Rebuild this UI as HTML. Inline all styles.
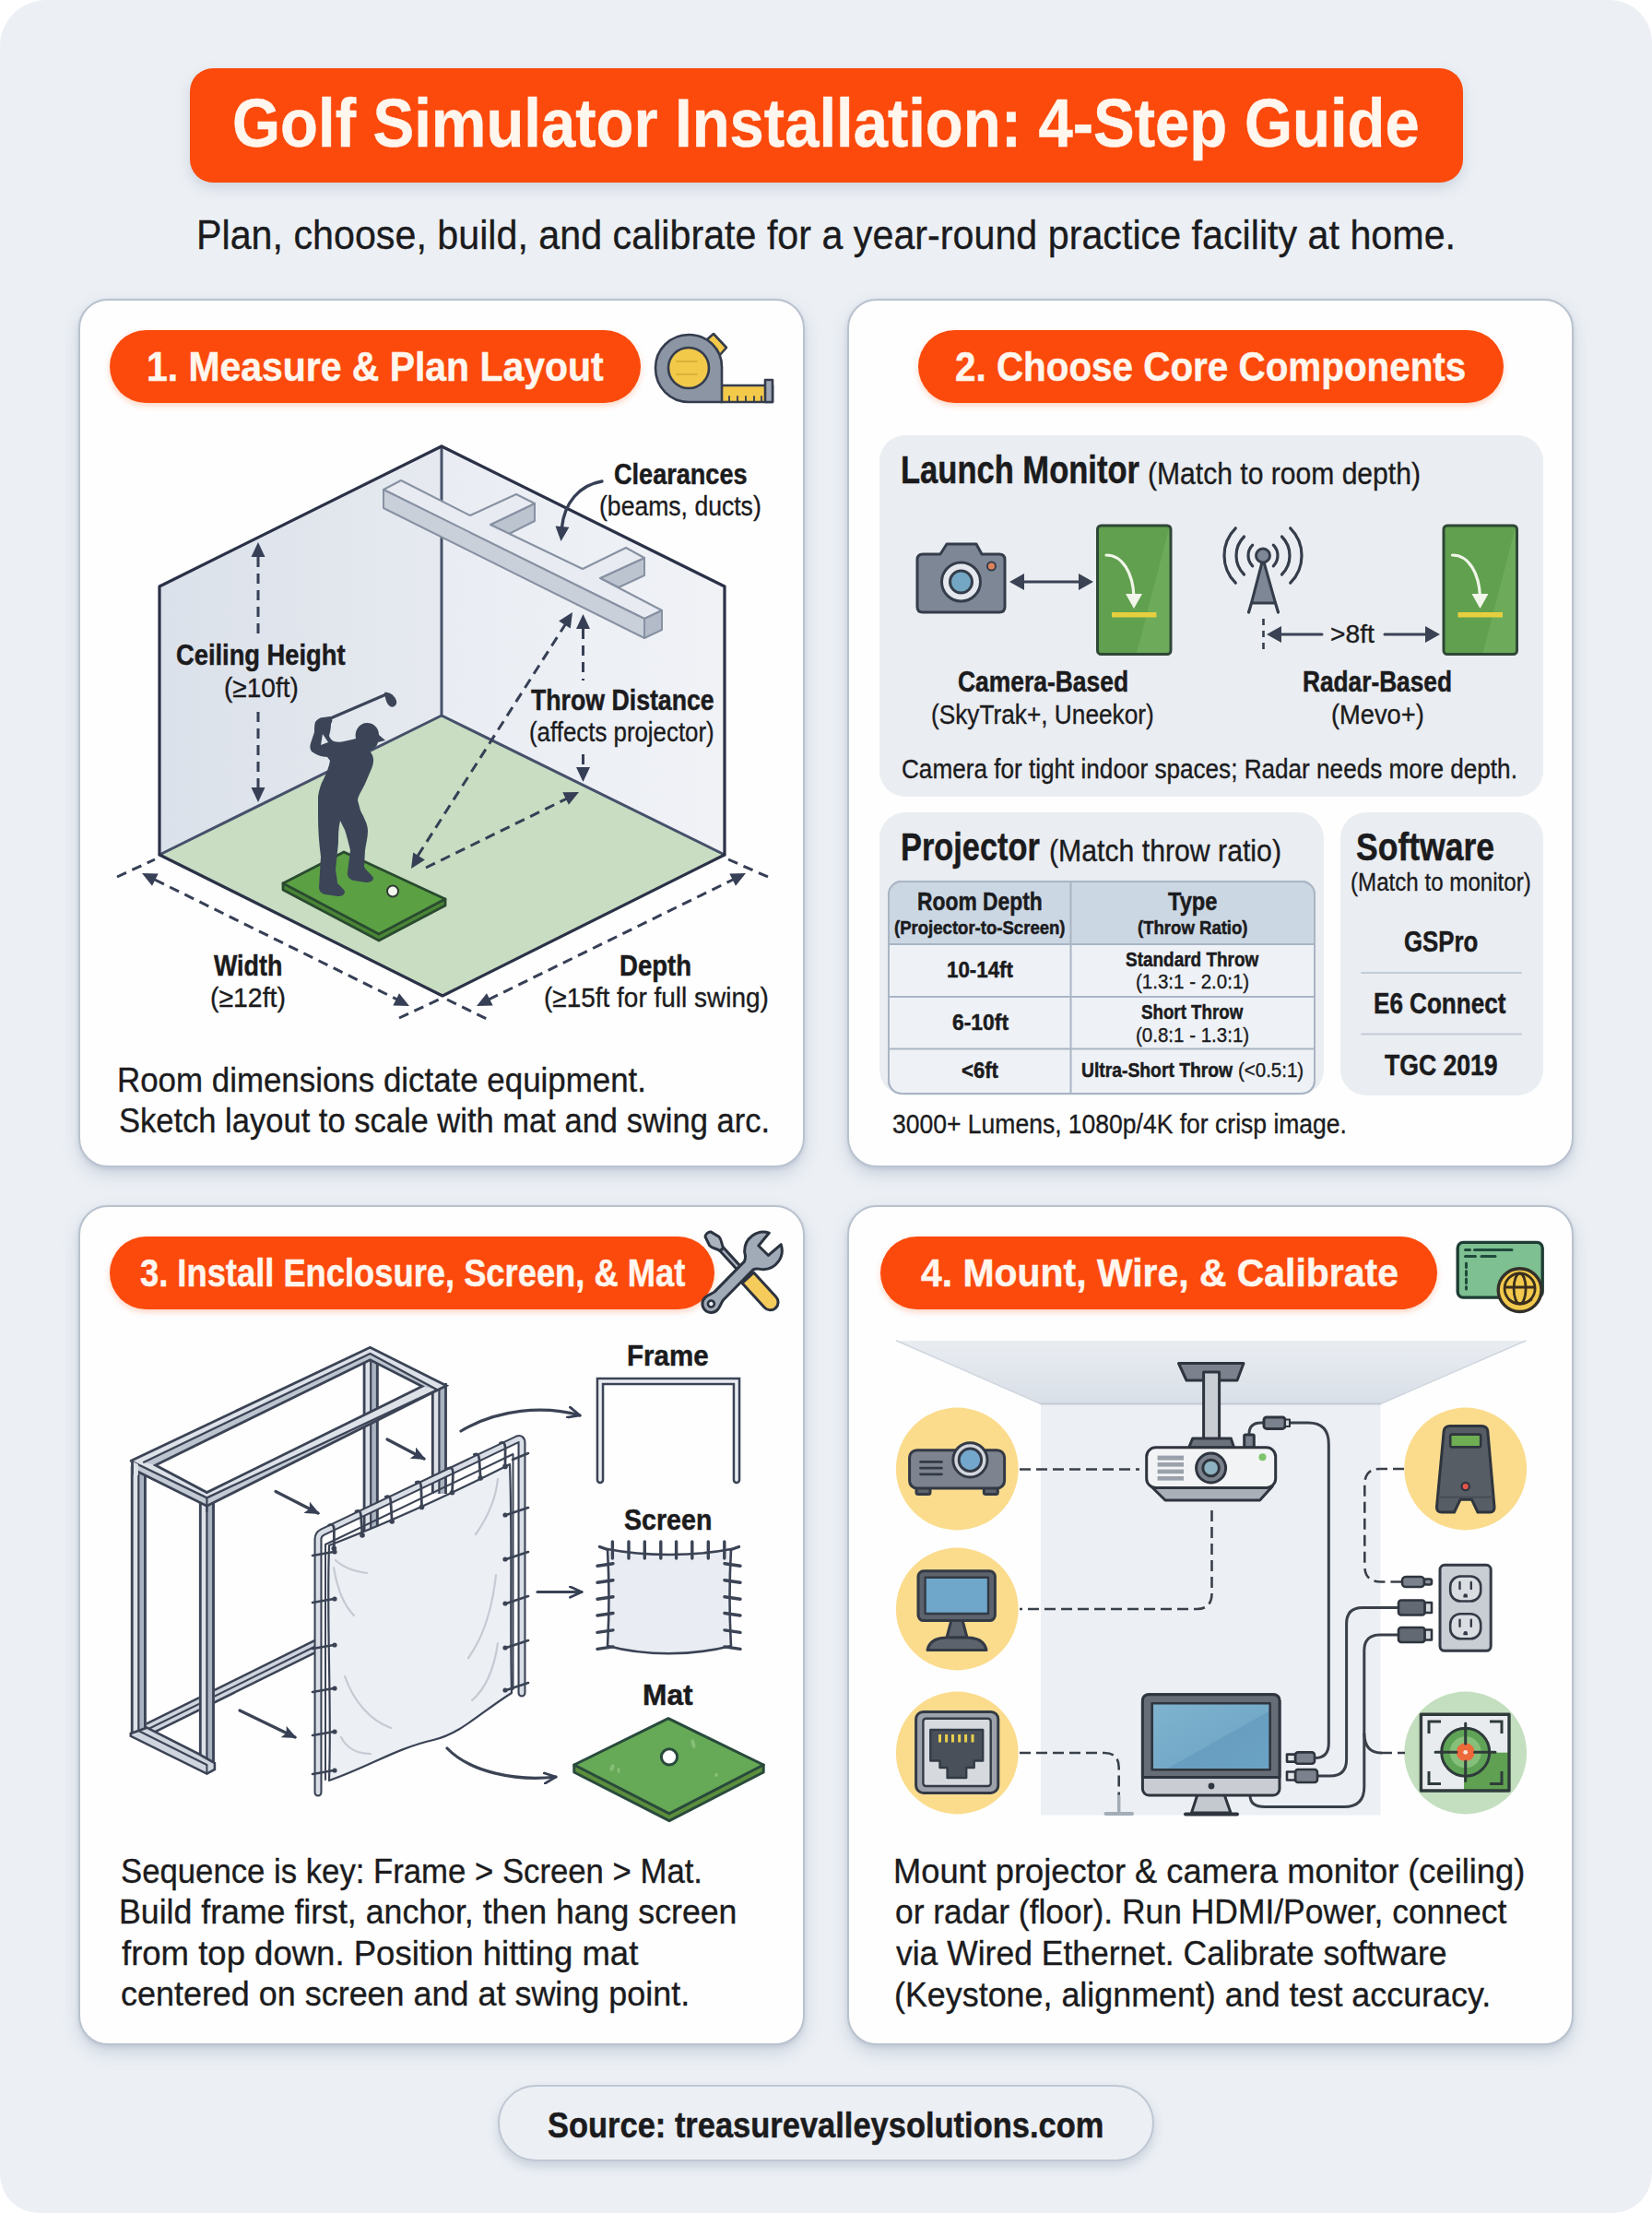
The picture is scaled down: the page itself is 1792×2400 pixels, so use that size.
<!DOCTYPE html>
<html lang="en">
<head>
<meta charset="utf-8">
<title>Golf Simulator Installation: 4-Step Guide</title>
<style>
html,body{margin:0;padding:0;background:#ffffff;}
body{width:1792px;height:2400px;overflow:hidden;font-family:"Liberation Sans",sans-serif;}
#page{position:relative;width:1792px;height:2400px;background:#ecf0f5;border-radius:50px 46px 43px 42px;overflow:hidden;}
.t{position:absolute;white-space:nowrap;line-height:1;transform-origin:0 0;color:#1b1b1d;font-family:"Liberation Sans",sans-serif;}
.t{-webkit-text-stroke:0.35px currentColor;}
.b{font-weight:bold;-webkit-text-stroke:0.5px currentColor;}
.panel{position:absolute;background:#fefefe;border:2px solid #b9c2ce;border-radius:32px;box-sizing:border-box;box-shadow:0 8px 18px rgba(120,135,160,.28),0 2px 4px rgba(120,135,160,.2);}
.pill{position:absolute;background:#fb4a0c;border-radius:40px;box-shadow:0 3px 6px rgba(250,90,20,.25);}
.sub{position:absolute;background:#eaedf1;border-radius:28px;}
.art{position:absolute;left:0;top:0;}
</style>
</head>
<body>
<div id="page">
<div class="pill" style="left:206px;top:74px;width:1381px;height:124px;border-radius:25px;box-shadow:0 6px 14px rgba(150,160,180,.35);"></div>
<div class="panel" style="left:85px;top:324px;width:788px;height:942px;"></div>
<div class="panel" style="left:919px;top:324px;width:788px;height:942px;"></div>
<div class="panel" style="left:85px;top:1307px;width:788px;height:911px;"></div>
<div class="panel" style="left:919px;top:1307px;width:788px;height:911px;"></div>
<div class="pill" style="left:119px;top:358px;width:576px;height:79px;"></div>
<div class="pill" style="left:996px;top:358px;width:635px;height:79px;"></div>
<div class="pill" style="left:119px;top:1341px;width:656px;height:79px;"></div>
<div class="pill" style="left:955px;top:1341px;width:604px;height:79px;"></div>
<div class="sub" style="left:954px;top:472px;width:720px;height:392px;"></div>
<div class="sub" style="left:954px;top:881px;width:482px;height:307px;"></div>
<div class="sub" style="left:1454px;top:881px;width:220px;height:307px;"></div>
<div style="position:absolute;left:540px;top:2261px;width:712px;height:83px;box-sizing:border-box;border:2.5px solid #bfc7d3;border-radius:42px;background:#eceff4;box-shadow:0 6px 12px rgba(120,135,160,.3);"></div>

<svg class="art" width="1792" height="2400" viewBox="0 0 1792 2400">
<defs>
<marker id="ah" viewBox="0 0 14 12" refX="12" refY="6" markerWidth="16" markerHeight="14" markerUnits="userSpaceOnUse" orient="auto-start-reverse"><path d="M0,0 L14,6 L0,12 L3,6 Z" fill="#363f55"/></marker>
<marker id="ah2" viewBox="0 0 14 12" refX="12" refY="6" markerWidth="16" markerHeight="14" markerUnits="userSpaceOnUse" orient="auto-start-reverse"><path d="M1,1 L12,6 L1,11" fill="none" stroke="#363f55" stroke-width="2.4" stroke-linecap="round" stroke-linejoin="round"/></marker>
<linearGradient id="lw" x1="0" y1="0" x2="1" y2="0"><stop offset="0" stop-color="#dbe1ea"/><stop offset="1" stop-color="#e6eaf0"/></linearGradient>
<linearGradient id="rw" x1="0" y1="0" x2="1" y2="0"><stop offset="0" stop-color="#e9edf3"/><stop offset="1" stop-color="#f0f2f6"/></linearGradient>
<linearGradient id="scr" x1="0" y1="0" x2="1" y2="1"><stop offset="0" stop-color="#63a650"/><stop offset="0.55" stop-color="#5a9c47"/><stop offset="0.56" stop-color="#4f9140"/><stop offset="1" stop-color="#56993f"/></linearGradient>
<linearGradient id="mon" x1="0" y1="0" x2="1" y2="1"><stop offset="0" stop-color="#7fb3cf"/><stop offset="0.55" stop-color="#74aac8"/><stop offset="0.56" stop-color="#689fc0"/><stop offset="1" stop-color="#6ba3c4"/></linearGradient>
<linearGradient id="ceil" x1="0" y1="0" x2="0" y2="1"><stop offset="0" stop-color="#e9edf2"/><stop offset="1" stop-color="#d9dfe7"/></linearGradient>
</defs>
<g id="p1" stroke-linejoin="round" stroke-linecap="round">
<!-- tape measure icon -->
<g stroke="#343c4d" stroke-width="2.6">
<path d="M782,418 H838 V436 H782 Z" fill="#f3c94a"/>
<path d="M830,412 h8 v24 h-8 z" fill="#9ea6b3"/>
<path d="M766,369 l8,-7 l14,15 l-8,9 z" fill="#f3c94a"/>
<path d="M747,363 C767,363 783,378 783,398 V436 H747 C727,436 711,420 711,399 C711,379 727,363 747,363 Z" fill="#8c95a4"/>
<circle cx="747" cy="399" r="22" fill="#f3c94a"/>
</g>
<g stroke="#343c4d" stroke-width="1.8"><path d="M791,436v-6M800,436v-6M809,436v-6M818,436v-6M826,436v-6"/></g>
<path d="M734,392 h22 M734,406 h22" stroke="#d3a934" stroke-width="1.5" fill="none"/>
<!-- room -->
<path d="M173,636 L479,484 L479,776 L173,927 Z" fill="url(#lw)"/>
<path d="M479,484 L786,636 L786,927 L479,776 Z" fill="url(#rw)"/>
<path d="M173,927 L479,776 L786,927 L480,1080 Z" fill="#c8ddc2"/>
<path d="M173,927 L479,776 L786,927" fill="none" stroke="#46506a" stroke-width="3"/>
<path d="M479,484 V776" fill="none" stroke="#46506a" stroke-width="3"/>
<path d="M173,927 L173,636 L479,484 L786,636 L786,927 L480,1080 Z" fill="none" stroke="#2b3147" stroke-width="3.2"/>
<!-- beam -->
<g stroke="#8791a2" stroke-width="2">
<path d="M532,569 L580,546 L580,565 L552,579 Z" fill="#bcc4d0"/>
<path d="M651,627 L699,605 L699,624 L671,637 Z" fill="#bcc4d0"/>
<path d="M416,531 L435,521 L510,559 L560,536 L580,546 L532,569 L632,617 L679,594 L699,605 L651,627 L718,662 L699,671 Z" fill="#e8ebf1"/>
<path d="M416,531 L699,671 L699,692 L416,551 Z" fill="#c9d0da"/>
<path d="M699,671 L718,662 L718,683 L699,692 Z" fill="#b3bbc8"/>
</g>
<!-- mat -->
<path d="M307,958 L307,965 L411,1020 L483,982 L483,975 Z" fill="#4a8636" stroke="#2a4a30" stroke-width="2.8"/>
<path d="M307,958 L373,924 L483,975 L411,1013 Z" fill="#5ba043" stroke="#2a4a30" stroke-width="2.8"/>
<circle cx="426" cy="966.500" r="6" fill="#f4f7ee" stroke="#2f3b35" stroke-width="2"/>
<!-- golfer -->
<path d="M358.500,779 L419,753" stroke="#3b4557" stroke-width="3.2" fill="none"/>
<path d="M417,751 C422,750 428,754 430,760 C431,765 427,768 423,766 C419,763 418,758 417,751 Z" fill="#3b4557"/>
<path d="M386,801 C384,792 390,784 398,784 C406,784 411,790 411,797 L418,803 L410,805 C409,810 404,813 401,814 L404,819 C406,824 405,830 402,836 L396,850 C392,858 388,864 388,868 L391,879 C395,887 399,894 399,901 C399,908 397,915 396,922 L395,940 C398,945 403,948 405,952 C405,956 401,957 397,957 L384,955 C379,954 376,950 377,946 L380,922 C378,914 376,906 374,900 L369,890 C367,898 367,906 367,914 L364,943 C365,950 366,955 366,958 C369,961 373,964 374,967 C374,971 370,972 366,972 L353,970 C348,969 346,966 346,962 L348,929 C346,914 345,900 345,885 L345,864 C346,857 348,850 351,845 C354,838 357,832 358,825 L355,821 C349,821 342,818 338,815 C336,812 336,809 337,806 L341,794 C341,790 341,786 342,783 C344,780 347,778 351,778 L358,777 C361,779 361,782 359,785 C359,790 358,794 357,798 C358,801 360,803 362,804 C366,805 370,805 373,804 C378,803 382,802 386,801 Z M350,796 L348,808 L356,805 C354,802 352,799 350,796 Z" fill="#3b4557" fill-rule="evenodd" stroke="none"/>
<!-- dashed dims -->
<g fill="none" stroke="#363f55" stroke-width="3" stroke-dasharray="11 7" stroke-linecap="butt">
<path d="M280,604 V692"/><path d="M280,772 V856"/>
<path d="M632.500,682 V738"/><path d="M632.500,818 V834"/>
<path d="M614,676 L452,930"/>
<path d="M462,941 L615,866"/>
<path d="M168,954 L431,1084"/>
<path d="M530,1084 L795,954"/>
<path d="M127,951 L168,932"/><path d="M433,1104 L476,1084"/>
<path d="M485,1084 L528,1105"/><path d="M790,932 L833,951"/>
</g>
<g fill="#363f55" stroke="none">
<path d="M280.0,588.0 L287.5,604.0 L272.5,604.0 Z M280.0,870.0 L272.5,854.0 L287.5,854.0 Z M632.5,666.0 L640.0,682.0 L625.0,682.0 Z M632.5,848.0 L625.0,832.0 L640.0,832.0 Z M621.0,664.0 L618.8,681.5 L606.1,673.5 Z M446.0,942.0 L448.2,924.5 L460.9,932.5 Z M628.0,859.0 L616.9,872.8 L610.3,859.3 Z M154.0,947.0 L171.7,947.4 L165.0,960.8 Z M444.0,1091.0 L426.3,1090.6 L433.0,1077.2 Z M517.0,1091.0 L528.0,1077.2 L534.7,1090.6 Z M809.0,947.0 L798.0,960.8 L791.3,947.4 Z"/>
</g>
<!-- clearances arrow -->
<path d="M653,522 C628,526 612,546 609.5,572" fill="none" stroke="#363f55" stroke-width="3.4"/>
<path d="M608.5,587.0 L602.5,570.4 L617.4,571.8 Z" fill="#363f55"/>
</g>
<g id="p2" stroke-linejoin="round" stroke-linecap="round">
<!-- camera -->
<path d="M1001,601 H1020 L1027,590 H1059 L1065,601 H1084 Q1090,601 1090,607 V658 Q1090,664 1084,664 H1001 Q995,664 995,658 V607 Q995,601 1001,601 Z" fill="#7e8796" stroke="#353d4b" stroke-width="3"/>
<circle cx="1042.500" cy="631" r="21" fill="#e4e8ee" stroke="#353d4b" stroke-width="3"/>
<circle cx="1042.500" cy="631" r="12" fill="#74a7c3" stroke="#353d4b" stroke-width="3"/>
<circle cx="1075.500" cy="614" r="4.500" fill="#e0825a" stroke="#353d4b" stroke-width="2"/>
<!-- double arrow -->
<path d="M1106,631 H1175" stroke="#3a4254" stroke-width="3" fill="none"/>
<path d="M1095,631 l16,-9 v18 z M1186,631 l-16,-9 v18 z" fill="#3a4254"/>
<!-- green screens -->
<g id="gs">
<rect x="1190.500" y="570" width="79.500" height="139.500" rx="4" fill="#60a04e"/><path d="M1268.500,571.500 V708 H1233 Z" fill="#6dab5b"/><rect x="1190.500" y="570" width="79.500" height="139.500" rx="4" fill="none" stroke="#2f4737" stroke-width="3"/>
<path d="M1200,602 C1218,602 1229,622 1230,647" fill="none" stroke="#f2f6ea" stroke-width="3.2"/>
<path d="M1221,644 L1239,644 L1230,660 Z" fill="#f2f6ea"/>
<rect x="1206" y="664" width="48.500" height="5.500" fill="#e6cf3e"/>
</g>
<use href="#gs" x="375.500"/>
<!-- radar -->
<g fill="none" stroke="#353d4b" stroke-width="3.200">
<path d="M1358.700,591.200 A16,16 0 0 0 1358.700,613.800"/><path d="M1381.300,591.200 A16,16 0 0 1 1381.300,613.800"/>
<path d="M1349.500,582 A29,29 0 0 0 1349.500,623"/><path d="M1390.500,582 A29,29 0 0 1 1390.500,623"/>
<path d="M1340.300,572.800 A42,42 0 0 0 1340.300,632.200"/><path d="M1399.700,572.800 A42,42 0 0 1 1399.700,632.200"/>
</g>
<path d="M1370,606 L1357.500,654 H1383.500 Z" fill="#7e8796" stroke="#353d4b" stroke-width="3"/>
<path d="M1357.500,654 L1354.500,664 M1383.500,654 L1386.500,664" stroke="#353d4b" stroke-width="3.200" fill="none"/>
<circle cx="1370" cy="602.500" r="7.500" fill="#7e8796" stroke="#353d4b" stroke-width="3"/>
<path d="M1370.500,671 V708" stroke="#353d4b" stroke-width="2.600" stroke-dasharray="7 6" stroke-linecap="butt" fill="none"/>
<path d="M1386,688 H1434 M1502,688 H1549" stroke="#3a4254" stroke-width="3" fill="none"/>
<path d="M1374,688 l16,-9 v18 z M1562,688 l-16,-9 v18 z" fill="#3a4254"/>
<!-- projector table -->
<rect x="964" y="956" width="462" height="230" rx="14" fill="#eef2f7" stroke="#aab5c4" stroke-width="2"/>
<path d="M964,1024 V970 Q964,956 978,956 H1412 Q1426,956 1426,970 V1024 Z" fill="#ccd7e4"/>
<path d="M964,1024 H1426 M964,1081 H1426 M964,1137.500 H1426 M1161.500,956 V1186" stroke="#aab5c4" stroke-width="2" fill="none"/>
<rect x="964" y="956" width="462" height="230" rx="14" fill="none" stroke="#aab5c4" stroke-width="2"/>
<!-- software dividers -->
<path d="M1477,1055 H1650 M1477,1121.500 H1650" stroke="#c3ccd8" stroke-width="2" fill="none"/>
</g>
<g id="p3" stroke-linejoin="round" stroke-linecap="round">
<g transform="translate(768,1338.6) rotate(47.5)" stroke="#2b3340" stroke-width="3">
<path d="M22,-2.6 H66 V2.6 H22 Z" fill="#aab2be"/>
<path d="M0,-4 C-2,-2 -2,2 0,4 L10,7 C15,7 18,3 22,2.6 V-2.6 C18,-3 15,-7 10,-7 Z" fill="#aab2be"/>
<path d="M64,-8.5 H100 A8.5,8.5 0 0 1 100,8.500 H64 Z" fill="#f5cb5c"/>
</g>
<g transform="translate(771.4,1414) rotate(-45.5)" stroke="#2b3340" stroke-width="3">
<path d="M0,-9.5 C4,-9.500 8,-7 12,-6.500 H58 C63,-8 64,-12 66,-14 A20.600,20.600 0 0 1 99,-9 L81,-7.500 V7.500 L99,9 A20.600,20.600 0 0 1 66,14 C64,12 63,8 58,6.500 H12 C8,7 4,9.500 0,9.500 A9.500,9.500 0 0 1 0,-9.500 Z" fill="#a1aab7"/>
<circle cx="0" cy="0" r="3.500" fill="#e9edf2" stroke-width="2.600"/>
</g>
<rect x="393.7" y="1472" width="8.5" height="188" fill="#dde1e8"/><rect x="402.2" y="1472" width="8.5" height="188" fill="#aab3c0"/><path d="M395.1,1472 V1660 M409.3,1472 V1660" fill="none" stroke="#3b4355" stroke-width="2.8" stroke-linecap="butt"/><path d="M402.2,1472 V1660" fill="none" stroke="#3b4355" stroke-width="2.2" stroke-linecap="butt"/>
<rect x="467.9" y="1500" width="8.5" height="120" fill="#dde1e8"/><rect x="476.4" y="1500" width="8.5" height="120" fill="#aab3c0"/><path d="M469.3,1500 V1620 M483.5,1500 V1620" fill="none" stroke="#3b4355" stroke-width="2.8" stroke-linecap="butt"/><path d="M476.4,1500 V1620" fill="none" stroke="#3b4355" stroke-width="2.2" stroke-linecap="butt"/>
<path d="M150,1880.5 L345,1784" fill="none" stroke="#3b4355" stroke-width="14.5" stroke-linecap="butt" stroke-linejoin="miter"/><path d="M150,1880.5 L345,1784" fill="none" stroke="#cfd5de" stroke-width="9.5" stroke-linecap="butt" stroke-linejoin="miter"/><path d="M150,1880.5 L345,1784" fill="none" stroke="#3b4355" stroke-width="2" stroke-linecap="butt" stroke-linejoin="miter"/>
<rect x="141.8" y="1590" width="8.5" height="290" fill="#dde1e8"/><rect x="150.3" y="1590" width="8.5" height="290" fill="#aab3c0"/><path d="M143.2,1590 V1880 M157.4,1590 V1880" fill="none" stroke="#3b4355" stroke-width="2.8" stroke-linecap="butt"/><path d="M150.3,1590 V1880" fill="none" stroke="#3b4355" stroke-width="2.2" stroke-linecap="butt"/>
<rect x="215.9" y="1626" width="8.5" height="292" fill="#dde1e8"/><rect x="224.4" y="1626" width="8.5" height="292" fill="#aab3c0"/><path d="M217.3,1626 V1918 M231.5,1626 V1918" fill="none" stroke="#3b4355" stroke-width="2.8" stroke-linecap="butt"/><path d="M224.4,1626 V1918" fill="none" stroke="#3b4355" stroke-width="2.2" stroke-linecap="butt"/>
<path d="M142.1,1584.2 L401.5,1461.2 L484.2,1502.7 L224.4,1633.2 L149.9,1596.3 L142.1,1592.6 Z M168.7,1589.0 L401.5,1474.8 L457.9,1503.6 L224.4,1618.6 Z" fill="#dde1e8" fill-rule="evenodd"/><path d="M156.1,1585.7 L401.5,1468.0 L474.2,1507.2 L457.9,1503.6 L401.5,1474.8 L168.7,1589.0 Z" fill="#bcc4cf"/><path d="M474.2,1507.2 L224.4,1624.4 L224.4,1633.2 L484.2,1502.7 Z M142.1,1584.5 L224.4,1624.4 L224.4,1633.2 L149.9,1596.3 Z" fill="#c3cad4"/><path d="M142.1,1584.2 L401.5,1461.2 L484.2,1502.7 L224.4,1633.2 L149.9,1596.3 M168.7,1589.0 L401.5,1474.8 L457.9,1503.6 L224.4,1618.6 Z" fill="none" stroke="#3b4355" stroke-width="2.8" stroke-linejoin="miter"/><path d="M156.1,1585.7 L401.5,1468.0 L474.2,1507.2 L224.4,1624.4 L142.1,1584.5" fill="none" stroke="#3b4355" stroke-width="2.3" stroke-linejoin="miter"/><path d="M142.1,1584.2 L149.9,1588 V1600 H142.1 Z" fill="#dde1e8"/><path d="M143.5,1584.5 V1600" stroke="#3b4355" stroke-width="2.8" stroke-linecap="butt" fill="none"/><path d="M224.4,1624.4 V1640" stroke="#3b4355" stroke-width="2.2" stroke-linecap="butt" fill="none"/>
<path d="M141.8,1880 L141.8,1882.8 L224.4,1923.6 L232.9,1919 L232.9,1912 L216.2,1902.5 L159.3,1873.7 Z" fill="#cfd5de" stroke="#3b4355" stroke-width="2.6" stroke-linejoin="miter"/><path d="M150.3,1877 L224.4,1914 M224.4,1914 V1923" fill="none" stroke="#3b4355" stroke-width="2"/>
<path d="M357,1676 C420,1652 490,1620 553,1588 C556,1670 553,1760 555,1836 C520,1858 500,1880 470,1887 C430,1896 400,1916 357,1931 C360,1850 354,1760 357,1676 Z" fill="#eceff4" stroke="#3b4355" stroke-width="2.2"/>
<g fill="none" stroke="#c5cad3" stroke-width="2.200"><path d="M364,1692 C372,1700 384,1704 398,1706"/><path d="M362,1700 C366,1724 374,1742 384,1752"/><path d="M540,1604 C538,1624 530,1644 516,1664"/><path d="M538,1708 C534,1744 524,1776 508,1798"/><path d="M540,1782 C536,1810 526,1832 512,1844"/><path d="M374,1818 C384,1846 402,1866 424,1874"/><path d="M370,1884 C376,1896 388,1902 402,1902"/></g>
<path d="M345,1944 V1669 Q345,1664 350,1661.500 L561,1561 Q566,1559 566,1565 V1836" fill="none" stroke="#3b4355" stroke-width="9" stroke-linecap="round" stroke-linejoin="miter"/><path d="M345,1944 V1669 Q345,1664 350,1661.500 L561,1561 Q566,1559 566,1565 V1836" fill="none" stroke="#d9dee6" stroke-width="4.8" stroke-linecap="round" stroke-linejoin="miter"/>
<path d="M353,1930 V1675 L556.500,1577 V1832" fill="none" stroke="#3b4355" stroke-width="2"/>
<path d="M356.9,1654.0 Q361.9,1651.5 362.4,1658.5 L362.3,1679.3 M386.0,1639.1 Q391.0,1636.6 391.5,1643.6 L393.0,1665.0 M418.3,1623.3 Q423.3,1620.8 423.8,1627.8 L425.2,1650.0 M451.3,1607.5 Q456.3,1605.0 456.8,1612.0 L457.5,1634.4 M486.0,1592.5 Q491.0,1590.0 491.5,1597.0 L490.5,1618.7 M514.3,1577.5 Q519.3,1575.0 519.8,1582.0 L521.2,1603.0 M542.6,1565.1 Q547.6,1562.6 548.1,1569.6 L548.0,1590.4" fill="none" stroke="#3b4355" stroke-width="2.8"/>
<g fill="#3b4355"><circle cx="362.3" cy="1679.3" r="2.8"/><circle cx="393.0" cy="1665.0" r="2.8"/><circle cx="425.2" cy="1650.0" r="2.8"/><circle cx="457.5" cy="1634.4" r="2.8"/><circle cx="490.5" cy="1618.7" r="2.8"/><circle cx="521.2" cy="1603.0" r="2.8"/><circle cx="548.0" cy="1590.4" r="2.8"/></g>
<path d="M339,1687 L362,1683 M339,1738 L362,1734 M339,1788 L362,1784 M339,1835 L362,1831 M339,1882 L362,1878 M339,1924 L362,1920" fill="none" stroke="#3b4355" stroke-width="2.6"/>
<g fill="#3b4355"><circle cx="363" cy="1683" r="2.6"/><circle cx="363" cy="1734" r="2.6"/><circle cx="363" cy="1784" r="2.6"/><circle cx="363" cy="1831" r="2.6"/><circle cx="363" cy="1878" r="2.6"/><circle cx="363" cy="1920" r="2.6"/></g>
<path d="M549,1643 L573,1635 M549,1691 L573,1683 M549,1739 L573,1731 M549,1787 L573,1779 M549,1833 L573,1825 M556,1583 L573,1576" fill="none" stroke="#3b4355" stroke-width="2.6"/>
<g fill="#3b4355"><circle cx="548" cy="1643" r="2.6"/><circle cx="548" cy="1691" r="2.6"/><circle cx="548" cy="1739" r="2.6"/><circle cx="548" cy="1787" r="2.6"/><circle cx="548" cy="1833" r="2.6"/></g>
<g fill="none" stroke="#3b4355" stroke-width="3.2">
<path d="M420,1561 L460,1582" marker-end="url(#ah)"/>
<path d="M299,1617.500 L345,1641" marker-end="url(#ah)"/>
<path d="M260,1855 L320,1884" marker-end="url(#ah)"/>
<path d="M500,1552 C540,1528 590,1524 629,1535" marker-end="url(#ah2)"/>
<path d="M583,1726.500 H631" marker-end="url(#ah2)"/>
<path d="M485,1896 C510,1922 560,1932 603,1927" marker-end="url(#ah2)"/>
</g>
<path d="M651,1605 V1498 H799 V1605" fill="none" stroke="#3b4355" stroke-width="8.6" stroke-linecap="round" stroke-linejoin="miter"/><path d="M651,1605 V1498 H799 V1605" fill="none" stroke="#e9ecf1" stroke-width="3.6" stroke-linecap="round" stroke-linejoin="miter"/>
<path d="M659,1680 C700,1688 752,1688 793,1680 C791,1716 791,1750 793,1785 C750,1796 700,1796 659,1785 C661,1750 661,1716 659,1680 Z" fill="#e9edf3" stroke="#3b4355" stroke-width="2.6"/>
<path d="M664.4,1672 V1690 M682,1672 V1690 M699.3,1672 V1690 M716.8,1672 V1690 M733.6,1672 V1690 M750.8,1672 V1690 M768.3,1672 V1690 M785.8,1672 V1690 M648,1698.2 L665,1695.7 M648,1716.3 L665,1713.8 M648,1734.3 L665,1731.8 M648,1752.0 L665,1749.5 M648,1770.4 L665,1767.9 M648,1788.4 L665,1785.9 M786,1695.7 L803,1698.2 M786,1713.8 L803,1716.3 M786,1731.8 L803,1734.3 M786,1749.5 L803,1752.0 M786,1767.9 L803,1770.4 M786,1785.9 L803,1788.4 M650.500,1677.500 L659,1680.500 M801.500,1677.500 L793,1680.500" fill="none" stroke="#3b4355" stroke-width="3.4"/>
<path d="M622.800,1914 V1922 L726,1974.700 L828.200,1922 V1914 Z" fill="#5c8f3c" stroke="#294a3c" stroke-width="3"/>
<path d="M622.800,1914 L725,1863.700 L828.200,1914 L726,1966.800 Z" fill="#66a956" stroke="#294a3c" stroke-width="3"/>
<circle cx="726" cy="1905.400" r="8.600" fill="#ffffff" stroke="#294a3c" stroke-width="3"/>
<g fill="#86c078"><ellipse cx="664" cy="1917" rx="2" ry="4" transform="rotate(20 664 1917)"/><ellipse cx="671" cy="1920" rx="1.500" ry="3"/><ellipse cx="752" cy="1891" rx="2" ry="5" transform="rotate(-15 752 1891)"/><circle cx="777" cy="1925" r="2"/></g>
</g>
<g id="p4" stroke-linejoin="round" stroke-linecap="round">
<!-- header icon -->
<rect x="1581.200" y="1347.400" width="92" height="59.700" rx="6" fill="#7ec091" stroke="#1f3d36" stroke-width="3.4"/>
<path d="M1589.500,1355.400 H1594.500 M1599.500,1355.400 H1640 M1589.500,1362.600 H1600.500 M1607,1362.600 H1622" stroke="#1f4a3c" stroke-width="3" fill="none"/>
<path d="M1590.500,1370 V1398" stroke="#1f4a3c" stroke-width="3" stroke-dasharray="4.500 4" fill="none"/>
<circle cx="1648.600" cy="1399.100" r="23.400" fill="#f2c94c" stroke="#33302a" stroke-width="3.400"/>
<g fill="none" stroke="#3a2f1e" stroke-width="2.800"><circle cx="1648.600" cy="1397.500" r="16.500"/><ellipse cx="1648.600" cy="1397.500" rx="6.500" ry="16.500"/><path d="M1632.500,1396 H1664.500 M1637,1409.500 C1644,1415 1654,1415 1661,1409.500"/></g>
<!-- room -->
<path d="M972.500,1454 H1655 L1497.500,1522.500 H1129 Z" fill="url(#ceil)"/>
<rect x="1129" y="1522.500" width="368.500" height="446" fill="#eceff4"/>
<path d="M1129,1522.500 H1497.500" stroke="#c2cad4" stroke-width="2" fill="none"/>
<path d="M972.500,1454 L1129,1522.500 M1655,1454 L1497.500,1522.500" stroke="#cfd6de" stroke-width="1.500" fill="none"/>
<!-- icon circles -->
<circle cx="1038.300" cy="1593" r="66.400" fill="#fbdc8d"/>
<circle cx="1038.300" cy="1745" r="66.400" fill="#fbdc8d"/>
<circle cx="1038.300" cy="1901" r="66.400" fill="#fbdc8d"/>
<circle cx="1589.700" cy="1593" r="66.400" fill="#fbdc8d"/>
<circle cx="1589.700" cy="1901" r="66.400" fill="#c4dfbf"/>
<!-- dashed links -->
<g fill="none" stroke="#3a4049" stroke-width="2.600" stroke-dasharray="12 6" stroke-linecap="butt">
<path d="M1106,1593.500 H1236"/>
<path d="M1314.500,1638 V1728 Q1314.500,1745 1298,1745 H1106"/>
<path d="M1106,1901 H1198 Q1213.700,1901 1213.700,1917 V1950"/>
<path d="M1523,1593 H1497 Q1480.300,1593 1480.300,1610 V1698 Q1480.300,1715.500 1498,1715.500 H1520"/>
<path d="M1498,1901 H1524"/>
</g>
<path d="M1213.700,1948 V1966" stroke="#a3adb8" stroke-width="3.500" fill="none"/>
<path d="M1199.500,1967 H1228" stroke="#a3adb8" stroke-width="4" fill="none"/>
<!-- solid cables -->
<g fill="none" stroke="#3a4049" stroke-width="3">
<path d="M1355,1557 V1555 Q1355,1543 1368,1543 H1372"/>
<path d="M1398,1543 H1419 Q1441.300,1543 1441.300,1566 V1891 Q1441.300,1906.600 1426,1906.600"/>
<path d="M1518,1743.500 H1478 Q1460.600,1743.500 1460.600,1761 V1908 Q1460.600,1926 1443,1926 H1429"/>
<path d="M1518,1773 H1497 Q1479.800,1773 1479.800,1790 V1938 Q1479.800,1959.500 1458,1959.500 H1372 Q1356,1959.500 1356,1947"/>
<path d="M1479.800,1880 Q1480.500,1901 1498,1901"/>
</g>
<!-- ceiling mount -->
<g stroke="#2f353e" stroke-width="3">
<path d="M1278.500,1478.500 H1349 L1342,1497 H1287 Z" fill="#7b828d"/>
<rect x="1305.600" y="1488" width="17" height="73" fill="#c9cdd4"/>
<path d="M1293.700,1560 H1335.300 L1338.600,1570 H1289.500 Z" fill="#6b727c"/>
<rect x="1349.700" y="1556" width="10.600" height="14" rx="1.500" fill="#7b828d"/>
<path d="M1248.800,1612 H1380.200 L1366.600,1627 H1264 Z" fill="#aab0b8"/>
<rect x="1243.700" y="1569.800" width="140" height="43.600" rx="10" fill="#f2f3f5"/>
<circle cx="1313.600" cy="1592" r="16" fill="#7b828d"/>
<circle cx="1313.600" cy="1592" r="8.800" fill="#8db3c2"/>
<rect x="1371" y="1537" width="23" height="12.400" rx="3" fill="#7b828d"/>
<rect x="1394" y="1539.500" width="5" height="7.400" fill="#d7dade" stroke-width="2"/>
</g>
<g fill="#9aa1ab"><rect x="1255.600" y="1578.600" width="28.400" height="5"/><rect x="1255.600" y="1586" width="28.400" height="4.600"/><rect x="1255.600" y="1593.600" width="28.400" height="4.600"/><rect x="1255.600" y="1601" width="28.400" height="4.600"/></g>
<circle cx="1369.500" cy="1580.300" r="4" fill="#7dc36b"/>
<!-- big monitor -->
<g stroke="#2f353e" stroke-width="3">
<path d="M1299,1946 H1328 L1335,1966 H1292.500 Z" fill="#c4c8cf"/>
<path d="M1286,1967.500 H1342" stroke-width="4" fill="none"/>
<rect x="1239.400" y="1837.700" width="148.600" height="109.400" rx="7" fill="#c9cdd3"/>
<path d="M1239.400,1927.600 V1844.700 Q1239.400,1837.700 1246.400,1837.700 H1381 Q1388,1837.700 1388,1844.700 V1927.600 Z" fill="#676d76"/>
<rect x="1249.700" y="1847.300" width="128" height="72" fill="url(#mon)" stroke-width="2.600"/>
</g>
<circle cx="1314" cy="1937" r="3.400" fill="#2f353e"/>
<!-- connectors at monitor -->
<g stroke="#2f353e" stroke-width="2.600">
<rect x="1405" y="1900.400" width="21" height="12.400" rx="3" fill="#7b828d"/><rect x="1396" y="1902.600" width="9" height="8" fill="#e3e5e8"/>
<rect x="1405" y="1919" width="24" height="14" rx="3" fill="#7b828d"/><rect x="1396" y="1921.500" width="9" height="9" fill="#e3e5e8"/>
<!-- connectors at outlet -->
<rect x="1521" y="1710" width="24" height="11" rx="4" fill="#7b828d"/><rect x="1545" y="1712.500" width="8" height="6" rx="2" fill="#8b929c"/>
<rect x="1517" y="1735.500" width="28.600" height="16" rx="3" fill="#636972"/><rect x="1545.600" y="1738" width="7.400" height="11" fill="#d7dade"/>
<rect x="1517" y="1765" width="28.600" height="16" rx="3" fill="#636972"/><rect x="1545.600" y="1767.500" width="7.400" height="11" fill="#d7dade"/>
</g>
<!-- outlet -->
<rect x="1562" y="1697.300" width="55.200" height="93" rx="5" fill="#c9cdd4" stroke="#333a45" stroke-width="3"/>
<g id="rcp"><rect x="1573.200" y="1709.500" width="33" height="27" rx="11" fill="#dadde2" stroke="#333a45" stroke-width="2.600"/>
<path d="M1583.500,1716 V1723 M1595.800,1716 V1723" stroke="#333a45" stroke-width="2.400" fill="none"/><path d="M1587.400,1732.500 v-2 a2.300,2.300 0 0 1 4.600,0 v2 z" fill="#333a45"/></g>
<use href="#rcp" y="40.700"/>
<!-- projector icon -->
<g stroke="#333a45" stroke-width="3">
<rect x="994" y="1610" width="15" height="10.500" rx="2" fill="#5d636c"/><rect x="1067.300" y="1610" width="15" height="10.500" rx="2" fill="#5d636c"/>
<rect x="986.600" y="1572.700" width="103" height="41.300" rx="8" fill="#7d848f"/>
<circle cx="1052.400" cy="1583.300" r="18.600" fill="#d3d7dd"/>
<circle cx="1052.400" cy="1583.300" r="12.200" fill="#74a7cc"/>
<path d="M998.500,1585.400 H1021.500 M998.500,1592.200 H1021.500 M998.500,1598.800 H1021.500" fill="none" stroke-width="2.800"/>
</g>
<!-- monitor icon -->
<g stroke="#333a45" stroke-width="3">
<path d="M1032,1757 H1044 L1049,1776 H1027 Z" fill="#5d636c"/>
<path d="M1006,1789.500 C1008,1780 1016,1776 1027,1776 H1049 C1060,1776 1068,1780 1070,1789.500 Z" fill="#5d636c"/>
<rect x="996" y="1703.800" width="83.400" height="53.800" rx="6" fill="#5d636c"/>
<rect x="1003.600" y="1710.800" width="68.400" height="39.200" fill="#6fa7cb" stroke-width="2.400"/>
</g>
<!-- ethernet icon -->
<g stroke="#333a45">
<rect x="993.600" y="1856.400" width="89.200" height="88" rx="8" fill="#9ca1aa" stroke-width="3"/>
<rect x="1001.400" y="1863.800" width="73.300" height="73.200" rx="3" fill="#d6d9de" stroke-width="2.400"/>
<path d="M1009.300,1876 H1066.200 V1909.500 H1056.700 V1917 H1048.200 V1928 H1027.600 V1917 H1019.500 V1909.500 H1009.300 Z" fill="#4a5059" stroke-width="2.400"/>
</g>
<path d="M1019.500,1881 V1889.500 M1026.600,1881 V1889.500 M1033.500,1881 V1889.500 M1040.700,1881 V1889.500 M1047.600,1881 V1889.500 M1055,1881 V1889.500" stroke="#e8cf4f" stroke-width="3" stroke-linecap="butt" fill="none"/>
<!-- radar device icon -->
<g stroke="#2f353e" stroke-width="3">
<path d="M1573,1546.500 H1607 Q1613,1546.500 1613.800,1552 L1621,1634 Q1621.500,1640 1616,1640 H1603 L1596.500,1626.300 H1584 L1577.500,1640 H1564 Q1558,1640 1558.500,1634 L1566.200,1552 Q1567,1546.500 1573,1546.500 Z" fill="#575d65"/>
<rect x="1573.200" y="1555.600" width="33" height="13.800" rx="2" fill="#6fae52" stroke-width="2.600"/>
<circle cx="1589.700" cy="1612" r="4.200" fill="#e5554a" stroke-width="2.200"/>
</g>
<path d="M1560.500,1623.600 H1619" stroke="#454b53" stroke-width="1.600" fill="none"/>
<!-- calibration icon -->
<rect x="1541.400" y="1859.300" width="95.600" height="82.700" fill="#e9ecef"/>
<rect x="1588" y="1900.700" width="49" height="41.300" fill="#5fa052"/>
<rect x="1541.400" y="1859.300" width="95.600" height="82.700" fill="none" stroke="#2f3b3a" stroke-width="3.400"/>
<circle cx="1589.700" cy="1900.300" r="26" fill="#5fa456" stroke="#2f3b3a" stroke-width="3"/>
<circle cx="1589.700" cy="1900.300" r="17" fill="#86bf7a"/>
<circle cx="1589.700" cy="1900.300" r="10" fill="#ee6a3a"/>
<circle cx="1589.700" cy="1900.300" r="2.400" fill="#fbe6d8"/>
<path d="M1557,1900.300 H1580 M1599.500,1900.300 H1622 M1589.700,1869 V1891 M1589.700,1910 V1931.500" stroke="#2f3b3a" stroke-width="3" fill="none"/>
<path d="M1550,1880 V1867 H1563 M1616,1867 H1629 V1880 M1550,1921 V1934.500 H1563 M1616,1934.500 H1629 V1921" stroke="#2f3b3a" stroke-width="3" stroke-linecap="butt" stroke-linejoin="miter" fill="none"/>
</g>

</svg>
<div class="t b" style="left:252.3px;top:97.1px;font-size:74px;color:#fff6ee;transform:scaleX(0.9052)">Golf Simulator Installation: 4-Step Guide</div>
<div class="t" style="left:213.3px;top:231.8px;font-size:45px;transform:scaleX(0.9163)">Plan, choose, build, and calibrate for a year-round practice facility at home.</div>
<div class="t b" style="left:159.1px;top:375.6px;font-size:44px;color:#fff6ee;transform:scaleX(0.9296)">1. Measure &amp; Plan Layout</div>
<div class="t b" style="left:1036.1px;top:375.6px;font-size:44px;color:#fff6ee;transform:scaleX(0.9179)">2. Choose Core Components</div>
<div class="t b" style="left:152.0px;top:1358.5px;font-size:43px;color:#fff6ee;transform:scaleX(0.8445)">3. Install Enclosure, Screen, &amp; Mat</div>
<div class="t b" style="left:999.0px;top:1358.5px;font-size:43px;color:#fff6ee;transform:scaleX(0.9514)">4. Mount, Wire, &amp; Calibrate</div>
<div class="t b" style="left:666.2px;top:497.8px;font-size:32px;transform:scaleX(0.8462)">Clearances</div>
<div class="t" style="left:650.1px;top:533.5px;font-size:30px;transform:scaleX(0.8859)">(beams, ducts)</div>
<div class="t b" style="left:191.1px;top:693.8px;font-size:32px;transform:scaleX(0.8533)">Ceiling Height</div>
<div class="t" style="left:243.1px;top:730.5px;font-size:30px;transform:scaleX(0.9350)">(≥10ft)</div>
<div class="t b" style="left:576.0px;top:742.8px;font-size:32px;transform:scaleX(0.8338)">Throw Distance</div>
<div class="t" style="left:574.1px;top:778.5px;font-size:30px;transform:scaleX(0.8619)">(affects projector)</div>
<div class="t b" style="left:232.0px;top:1030.8px;font-size:32px;transform:scaleX(0.8389)">Width</div>
<div class="t" style="left:228.1px;top:1066.5px;font-size:30px;transform:scaleX(0.9468)">(≥12ft)</div>
<div class="t b" style="left:672.3px;top:1030.8px;font-size:32px;transform:scaleX(0.8610)">Depth</div>
<div class="t" style="left:590.1px;top:1066.5px;font-size:30px;transform:scaleX(0.9324)">(≥15ft for full swing)</div>
<div class="t" style="left:127.2px;top:1152.5px;font-size:37px;transform:scaleX(0.9428)">Room dimensions dictate equipment.</div>
<div class="t" style="left:129.1px;top:1196.5px;font-size:37px;transform:scaleX(0.9329)">Sketch layout to scale with mat and swing arc.</div>
<div class="t b" style="left:977.4px;top:489.3px;font-size:42px;transform:scaleX(0.8221)">Launch Monitor</div>
<div class="t" style="left:1245.2px;top:496.1px;font-size:34px;transform:scaleX(0.8848)">(Match to room depth)</div>
<div class="t" style="left:1443.0px;top:674.2px;font-size:28px;transform:scaleX(1.0064)">&gt;8ft</div>
<div class="t b" style="left:1039.2px;top:722.8px;font-size:32px;transform:scaleX(0.8260)">Camera-Based</div>
<div class="t" style="left:1010.1px;top:759.5px;font-size:30px;transform:scaleX(0.8744)">(SkyTrak+, Uneekor)</div>
<div class="t b" style="left:1413.4px;top:722.8px;font-size:32px;transform:scaleX(0.8202)">Radar-Based</div>
<div class="t" style="left:1444.1px;top:759.5px;font-size:30px;transform:scaleX(0.9093)">(Mevo+)</div>
<div class="t" style="left:978.1px;top:818.5px;font-size:30px;transform:scaleX(0.8707)">Camera for tight indoor spaces; Radar needs more depth.</div>
<div class="t b" style="left:977.4px;top:898.3px;font-size:42px;transform:scaleX(0.8185)">Projector</div>
<div class="t" style="left:1138.2px;top:905.1px;font-size:34px;transform:scaleX(0.8890)">(Match throw ratio)</div>
<div class="t b" style="left:995.2px;top:964.2px;font-size:28px;transform:scaleX(0.8155)">Room Depth</div>
<div class="t b" style="left:970.1px;top:996.0px;font-size:20px;transform:scaleX(0.9276)">(Projector-to-Screen)</div>
<div class="t b" style="left:1267.0px;top:964.2px;font-size:28px;transform:scaleX(0.8453)">Type</div>
<div class="t b" style="left:1234.1px;top:996.0px;font-size:20px;transform:scaleX(0.9276)">(Throw Ratio)</div>
<div class="t b" style="left:1027.1px;top:1039.6px;font-size:24px;transform:scaleX(0.9296)">10-14ft</div>
<div class="t b" style="left:1221.0px;top:1030.3px;font-size:22px;transform:scaleX(0.8614)">Standard Throw</div>
<div class="t" style="left:1232.1px;top:1054.3px;font-size:22px;transform:scaleX(0.9326)">(1.3:1 - 2.0:1)</div>
<div class="t b" style="left:1033.0px;top:1096.6px;font-size:24px;transform:scaleX(0.9527)">6-10ft</div>
<div class="t b" style="left:1238.0px;top:1087.3px;font-size:22px;transform:scaleX(0.8510)">Short Throw</div>
<div class="t" style="left:1232.1px;top:1112.3px;font-size:22px;transform:scaleX(0.9326)">(0.8:1 - 1.3:1)</div>
<div class="t b" style="left:1043.1px;top:1148.6px;font-size:24px;transform:scaleX(0.9208)">&lt;6ft</div>
<div class="t b" style="left:1173.1px;top:1150.3px;font-size:22px;transform:scaleX(0.8776)">Ultra-Short Throw</div>
<div class="t" style="left:1343.1px;top:1150.3px;font-size:22px;transform:scaleX(0.9311)">(&lt;0.5:1)</div>
<div class="t b" style="left:1471.2px;top:898.3px;font-size:42px;transform:scaleX(0.8456)">Software</div>
<div class="t" style="left:1465.1px;top:944.0px;font-size:27px;transform:scaleX(0.8937)">(Match to monitor)</div>
<div class="t b" style="left:1523.2px;top:1005.3px;font-size:32px;transform:scaleX(0.8059)">GSPro</div>
<div class="t b" style="left:1490.4px;top:1071.8px;font-size:32px;transform:scaleX(0.8143)">E6 Connect</div>
<div class="t b" style="left:1502.0px;top:1138.8px;font-size:32px;transform:scaleX(0.8309)">TGC 2019</div>
<div class="t" style="left:968.1px;top:1203.5px;font-size:30px;transform:scaleX(0.8837)">3000+ Lumens, 1080p/4K for crisp image.</div>
<div class="t b" style="left:680.2px;top:1453.8px;font-size:32px;transform:scaleX(0.9223)">Frame</div>
<div class="t b" style="left:677.0px;top:1631.8px;font-size:32px;transform:scaleX(0.8936)">Screen</div>
<div class="t b" style="left:697.0px;top:1821.8px;font-size:32px;transform:scaleX(0.9915)">Mat</div>
<div class="t" style="left:131.1px;top:2010.5px;font-size:37px;transform:scaleX(0.9383)">Sequence is key: Frame &gt; Screen &gt; Mat.</div>
<div class="t" style="left:129.1px;top:2054.6px;font-size:37px;transform:scaleX(0.9644)">Build frame first, anchor, then hang screen</div>
<div class="t" style="left:132.0px;top:2099.6px;font-size:37px;transform:scaleX(0.9871)">from top down. Position hitting mat</div>
<div class="t" style="left:131.0px;top:2143.6px;font-size:37px;transform:scaleX(0.9710)">centered on screen and at swing point.</div>
<div class="t" style="left:969.1px;top:2010.5px;font-size:37px;transform:scaleX(0.9801)">Mount projector &amp; camera monitor (ceiling)</div>
<div class="t" style="left:971.0px;top:2054.6px;font-size:37px;transform:scaleX(0.9571)">or radar (floor). Run HDMI/Power, connect</div>
<div class="t" style="left:972.0px;top:2099.6px;font-size:37px;transform:scaleX(0.9589)">via Wired Ethernet. Calibrate software</div>
<div class="t" style="left:970.1px;top:2144.6px;font-size:37px;transform:scaleX(0.9692)">(Keystone, alignment) and test accuracy.</div>
<div class="t b" style="left:594.1px;top:2284.8px;font-size:39px;transform:scaleX(0.8837)">Source: treasurevalleysolutions.com</div>
</div>
</body>
</html>
